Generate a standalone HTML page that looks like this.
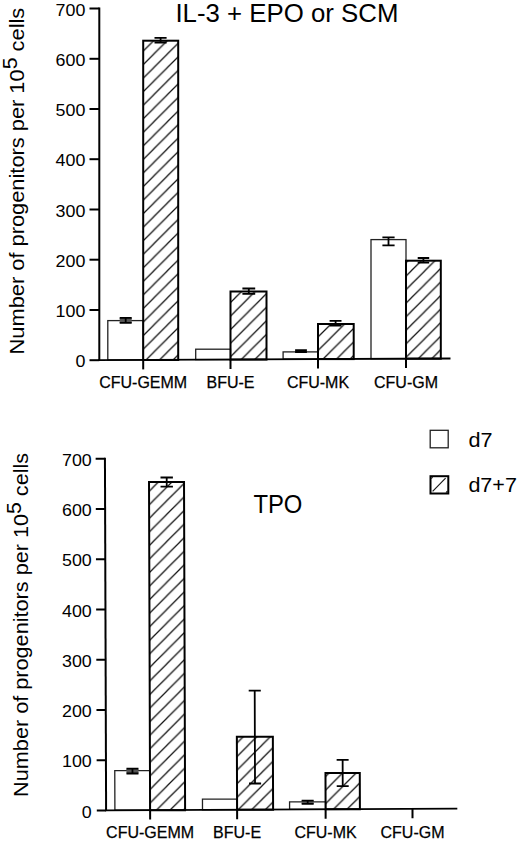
<!DOCTYPE html>
<html><head><meta charset="utf-8"><style>
html,body{margin:0;padding:0;background:#fff;}
body{width:520px;height:842px;overflow:hidden;}
svg{display:block;}
text{font-family:"Liberation Sans",sans-serif;fill:#000;}
.cl{stroke:#000;stroke-width:0.25px;}
</style></head><body>
<svg width="520" height="842" viewBox="0 0 520 842">
<defs>
<pattern id="hatch" patternUnits="userSpaceOnUse" width="13.55" height="13.55" patternTransform="translate(4.6 0)">
<path d="M-1 1 L1 -1 M0 13.55 L13.55 0 M12.55 14.55 L14.55 12.55" stroke="#111" stroke-width="1.25"/>
</pattern>
</defs>
<rect width="520" height="842" fill="#fff"/>
<rect x="107.8" y="320.6" width="35.4" height="39.4" fill="#fff" stroke="#222" stroke-width="1.3"/>
<rect x="143.2" y="40.7" width="35.0" height="319.3" fill="url(#hatch)" stroke="#000" stroke-width="2"/>
<rect x="195.7" y="349.2" width="34.8" height="10.4" fill="#fff" stroke="#222" stroke-width="1.3"/>
<rect x="230.5" y="291.5" width="36.0" height="68.1" fill="url(#hatch)" stroke="#000" stroke-width="2"/>
<rect x="283.1" y="351.9" width="34.9" height="7.2" fill="#fff" stroke="#222" stroke-width="1.3"/>
<rect x="318.0" y="324.0" width="35.7" height="35.1" fill="url(#hatch)" stroke="#000" stroke-width="2"/>
<rect x="371.0" y="239.6" width="35.0" height="119.1" fill="#fff" stroke="#222" stroke-width="1.3"/>
<rect x="406.0" y="260.7" width="34.8" height="98.0" fill="url(#hatch)" stroke="#000" stroke-width="2"/>
<rect x="119.7" y="317.8" width="12.0" height="5.0" fill="#555"/>
<path d="M119.7 317.8H131.7M119.7 322.8H131.7M125.7 317.8V322.8" stroke="#000" stroke-width="1.8" fill="none"/>
<path d="M154.5 37.8H166.6M154.5 42.5H166.6M160.6 37.8V42.5" stroke="#000" stroke-width="1.8" fill="none"/>
<path d="M242.4 288.5H255.2M242.4 293.8H255.2M248.8 288.5V293.8" stroke="#000" stroke-width="1.8" fill="none"/>
<path d="M295.1 350.2H306.9M295.1 352.0H306.9M301.0 350.2V352.0" stroke="#000" stroke-width="1.8" fill="none"/>
<path d="M329.6 320.8H341.5M329.6 325.6H341.5M335.6 320.8V325.6" stroke="#000" stroke-width="1.8" fill="none"/>
<path d="M382.4 237.3H394.6M382.4 245.4H394.6M388.5 237.3V245.4" stroke="#000" stroke-width="1.8" fill="none"/>
<path d="M417.7 258.0H429.2M417.7 262.7H429.2M423.4 258.0V262.7" stroke="#000" stroke-width="1.8" fill="none"/>
<path d="M99.3 7.5V360.2" stroke="#000" stroke-width="2.0" fill="none"/>
<path d="M98.3 360.2L450.5 358.5" stroke="#000" stroke-width="1.8" fill="none"/>
<path d="M89.5 360.2H99.3" stroke="#000" stroke-width="2" fill="none"/>
<path d="M89.5 310.0H99.3" stroke="#000" stroke-width="2" fill="none"/>
<path d="M89.5 259.7H99.3" stroke="#000" stroke-width="2" fill="none"/>
<path d="M89.5 209.5H99.3" stroke="#000" stroke-width="2" fill="none"/>
<path d="M89.5 159.2H99.3" stroke="#000" stroke-width="2" fill="none"/>
<path d="M89.5 109.0H99.3" stroke="#000" stroke-width="2" fill="none"/>
<path d="M89.5 58.8H99.3" stroke="#000" stroke-width="2" fill="none"/>
<path d="M89.5 8.5H99.3" stroke="#000" stroke-width="2" fill="none"/>
<path d="M143.2 360.0V369.4" stroke="#000" stroke-width="2" fill="none"/>
<path d="M230.5 359.6V369.0" stroke="#000" stroke-width="2" fill="none"/>
<path d="M318.0 359.1V368.5" stroke="#000" stroke-width="2" fill="none"/>
<path d="M406.0 358.7V368.1" stroke="#000" stroke-width="2" fill="none"/>
<text transform="translate(85.4 367.4) scale(1.05 1)" text-anchor="end" font-size="17">0</text>
<text transform="translate(85.4 317.2) scale(1.05 1)" text-anchor="end" font-size="17">100</text>
<text transform="translate(85.4 266.9) scale(1.05 1)" text-anchor="end" font-size="17">200</text>
<text transform="translate(85.4 216.7) scale(1.05 1)" text-anchor="end" font-size="17">300</text>
<text transform="translate(85.4 166.4) scale(1.05 1)" text-anchor="end" font-size="17">400</text>
<text transform="translate(85.4 116.2) scale(1.05 1)" text-anchor="end" font-size="17">500</text>
<text transform="translate(85.4 66.0) scale(1.05 1)" text-anchor="end" font-size="17">600</text>
<text transform="translate(85.4 15.7) scale(1.05 1)" text-anchor="end" font-size="17">700</text>
<text x="143.2" y="388.0" text-anchor="middle" font-size="16" class="cl">CFU-GEMM</text>
<text x="230.5" y="388.0" text-anchor="middle" font-size="16" class="cl">BFU-E</text>
<text x="318.0" y="388.0" text-anchor="middle" font-size="16" class="cl">CFU-MK</text>
<text x="406.0" y="388.0" text-anchor="middle" font-size="16" class="cl">CFU-GM</text>
<g transform="translate(-2.674 0) skewX(0.1891)">
<rect x="114.9" y="770.7" width="35.2" height="39.5" fill="#fff" stroke="#222" stroke-width="1.3"/>
<rect x="150.1" y="481.9" width="35.0" height="328.3" fill="url(#hatch)" stroke="#000" stroke-width="2"/>
<rect x="202.5" y="799.2" width="34.6" height="10.6" fill="#fff" stroke="#222" stroke-width="1.3"/>
<rect x="237.1" y="736.7" width="36.0" height="73.1" fill="url(#hatch)" stroke="#000" stroke-width="2"/>
<rect x="289.6" y="801.9" width="36.0" height="7.4" fill="#fff" stroke="#222" stroke-width="1.3"/>
<rect x="325.6" y="773.1" width="34.3" height="36.2" fill="url(#hatch)" stroke="#000" stroke-width="2"/>
<rect x="126.6" y="768.7" width="12.0" height="4.8" fill="#555"/>
<path d="M126.6 768.7H138.6M126.6 773.5H138.6M132.6 768.7V773.5" stroke="#000" stroke-width="1.8" fill="none"/>
<path d="M161.6 477.5H174.0M161.6 486.7H174.0M167.8 477.5V486.7" stroke="#000" stroke-width="1.8" fill="none"/>
<path d="M249.1 690.6H261.2M249.1 783.5H261.2M255.1 690.6V783.5" stroke="#000" stroke-width="1.8" fill="none"/>
<rect x="301.7" y="800.6" width="12.0" height="3.2" fill="#555"/>
<path d="M301.7 800.6H313.7M301.7 803.8H313.7M307.7 800.6V803.8" stroke="#000" stroke-width="1.8" fill="none"/>
<path d="M336.8 759.8H348.8M336.8 786.2H348.8M342.8 759.8V786.2" stroke="#000" stroke-width="1.8" fill="none"/>
<path d="M106.1 457.8V810.4" stroke="#000" stroke-width="2.0" fill="none"/>
<path d="M105.1 810.4L457.3 808.7" stroke="#000" stroke-width="1.8" fill="none"/>
<path d="M96.8 810.4H106.1" stroke="#000" stroke-width="2" fill="none"/>
<path d="M96.8 760.2H106.1" stroke="#000" stroke-width="2" fill="none"/>
<path d="M96.8 709.9H106.1" stroke="#000" stroke-width="2" fill="none"/>
<path d="M96.8 659.7H106.1" stroke="#000" stroke-width="2" fill="none"/>
<path d="M96.8 609.4H106.1" stroke="#000" stroke-width="2" fill="none"/>
<path d="M96.8 559.2H106.1" stroke="#000" stroke-width="2" fill="none"/>
<path d="M96.8 509.0H106.1" stroke="#000" stroke-width="2" fill="none"/>
<path d="M96.8 458.7H106.1" stroke="#000" stroke-width="2" fill="none"/>
<path d="M150.1 810.2V819.6" stroke="#000" stroke-width="2" fill="none"/>
<path d="M237.1 809.8V819.2" stroke="#000" stroke-width="2" fill="none"/>
<path d="M325.6 809.3V818.7" stroke="#000" stroke-width="2" fill="none"/>
<path d="M412.5 808.9V818.3" stroke="#000" stroke-width="2" fill="none"/>
</g>
<text transform="translate(91.8 817.6) scale(1.05 1)" text-anchor="end" font-size="17">0</text>
<text transform="translate(91.8 767.4) scale(1.05 1)" text-anchor="end" font-size="17">100</text>
<text transform="translate(91.8 717.1) scale(1.05 1)" text-anchor="end" font-size="17">200</text>
<text transform="translate(91.8 666.9) scale(1.05 1)" text-anchor="end" font-size="17">300</text>
<text transform="translate(91.8 616.6) scale(1.05 1)" text-anchor="end" font-size="17">400</text>
<text transform="translate(91.8 566.4) scale(1.05 1)" text-anchor="end" font-size="17">500</text>
<text transform="translate(91.8 516.2) scale(1.05 1)" text-anchor="end" font-size="17">600</text>
<text transform="translate(91.8 465.9) scale(1.05 1)" text-anchor="end" font-size="17">700</text>
<text x="150.1" y="838.1" text-anchor="middle" font-size="16" class="cl">CFU-GEMM</text>
<text x="237.1" y="838.1" text-anchor="middle" font-size="16" class="cl">BFU-E</text>
<text x="325.6" y="838.1" text-anchor="middle" font-size="16" class="cl">CFU-MK</text>
<text x="412.5" y="838.1" text-anchor="middle" font-size="16" class="cl">CFU-GM</text>
<text x="175.4" y="21.7" font-size="26" textLength="223" lengthAdjust="spacingAndGlyphs">IL-3 + EPO or SCM</text>
<text x="253.4" y="512.7" font-size="26" textLength="49" lengthAdjust="spacingAndGlyphs">TPO</text>
<text transform="translate(23.9 354.4) rotate(-90) scale(1.04 1)" font-size="21">Number of progenitors per 10<tspan font-size="20.5" dy="-7.4">5</tspan><tspan dy="7.4"> cells</tspan></text>
<text transform="translate(28.1 796.9) rotate(-90) scale(1.032 1)" font-size="21">Number of progenitors per 10<tspan font-size="20.5" dy="-7.4">5</tspan><tspan dy="7.4"> cells</tspan></text>
<rect x="430.2" y="430.3" width="18" height="17.5" fill="#fff" stroke="#222" stroke-width="1.3"/>
<rect x="430.5" y="476.2" width="17.8" height="17.3" fill="#fff" stroke="#000" stroke-width="2"/>
<path d="M432.6 491.3 L445.6 478.1 M431.2 478.6 L432.6 477.2 M446 492.6 L447.6 491" stroke="#1a1a1a" stroke-width="1.2"/>
<text x="468.4" y="447.2" font-size="20" textLength="24" lengthAdjust="spacingAndGlyphs">d7</text>
<text x="468.4" y="492.2" font-size="20" textLength="48.5" lengthAdjust="spacingAndGlyphs">d7+7</text>
</svg>
</body></html>
